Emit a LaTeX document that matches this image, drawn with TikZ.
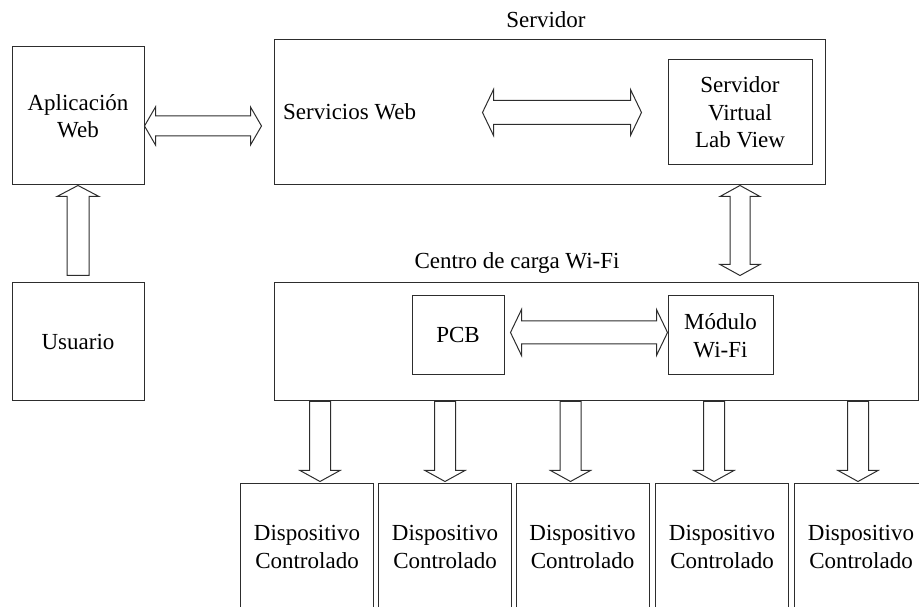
\documentclass[tikz,border=0pt]{standalone}
\usepackage{fontspec}
\setmainfont{Liberation Serif}
\usetikzlibrary{calc,positioning}
\definecolor{figline}{RGB}{45,45,45}
\tikzset{
  box/.style ={draw=figline, line width=1pt, inner sep=2pt, align=center, font=\fontsize{23}{27.5}\selectfont},
  lab/.style ={font=\fontsize{23}{27.5}\selectfont, inner sep=0pt},
  blk/.style ={draw=figline, line width=1pt, line join=miter},
}
% block arrow, tip at #2; #3 half shaft, #4 half head
\newcommand\fatarrow[4]{%
  \draw[blk] ($(#1)!#3!90:(#2)$) -- ($(#2)!11pt!(#1)!#3!-90:(#1)$) -- ($(#2)!11pt!(#1)!#4!-90:(#1)$)
    -- (#2) -- ($(#2)!11pt!(#1)!#4!90:(#1)$) -- ($(#2)!11pt!(#1)!#3!90:(#1)$) -- ($(#1)!#3!-90:(#2)$) -- cycle;}
% block arrow with a tip at both ends
\newcommand\fatdblarrow[4]{%
  \draw[blk] (#1) -- ($(#1)!11pt!(#2)!#4!90:(#2)$) -- ($(#1)!11pt!(#2)!#3!90:(#2)$)
    -- ($(#2)!11pt!(#1)!#3!-90:(#1)$) -- ($(#2)!11pt!(#1)!#4!-90:(#1)$) -- (#2)
    -- ($(#2)!11pt!(#1)!#4!90:(#1)$) -- ($(#2)!11pt!(#1)!#3!90:(#1)$)
    -- ($(#1)!11pt!(#2)!#3!-90:(#2)$) -- ($(#1)!11pt!(#2)!#4!-90:(#2)$) -- cycle;}
\begin{document}
\begin{tikzpicture}[x=1pt,y=1pt]
  \useasboundingbox (0,0) rectangle (919,607);
  \clip (0,0) rectangle (919,607);
  % left column
  \node[box,minimum width=132pt,minimum height=138pt] (app) at (78,491) {Aplicación\\Web};
  \node[box,minimum width=132pt,minimum height=118pt] (usr) at (78,265) {Usuario};
  % server
  \node[box,minimum width=551pt,minimum height=145pt] (srv) at (549.5,494.5) {};
  \node[lab] (srvlab) at (546,587) {Servidor};
  \node[lab,anchor=west] (ws) at (283,495) {Servicios Web};
  \node[box,minimum width=144pt,minimum height=105pt] (svlv) at (740,494.5) {Servidor\\Virtual\\Lab View};
  % load centre
  \node[lab] (cwflab) at (517,344) {Centro de carga Wi-Fi};
  \node[box,minimum width=644pt,minimum height=118pt] (cwf) at (596,265) {};
  \node[box,minimum width=92pt,minimum height=79pt] (pcb) at (458,271.5) {PCB};
  \node[box,minimum width=105pt,minimum height=79pt] (mod) at (720.5,271.5) {Módulo\\Wi-Fi};
  % devices
  \foreach \i/\cx in {1/307,2/445,3/582.5,4/722,5/861}
    \node[box,minimum width=133pt,minimum height=126pt] (dev\i) at (\cx,60) {Dispositivo\\Controlado};
  % arrows
  \coordinate (a1) at ($(app.east)+(0,-10)$);
  \coordinate (a2) at ($(srv.west |- a1)+(-12,0)$);
  \fatdblarrow{a1}{a2}{10pt}{19pt}
  \coordinate (b1) at ($(svlv.west)+(-185,0)$);
  \coordinate (b2) at ($(svlv.west)+(-26,0)$);
  \fatdblarrow{b1}{b2}{12pt}{23pt}
  \coordinate (c1) at (svlv.center |- srv.south);
  \coordinate (c2) at ($(c1 |- cwf.north)+(0,7)$);
  \fatdblarrow{c1}{c2}{10pt}{20pt}
  \coordinate (d1) at ($(pcb.east)+(6,3)$);
  \coordinate (d2) at (mod.west |- d1);
  \fatdblarrow{d1}{d2}{11.5pt}{23pt}
  \coordinate (e1) at ($(usr.north)+(0,7)$);
  \fatarrow{e1}{app.south}{11pt}{21pt}
  \foreach \i/\dx in {1/13,2/0,3/-12,4/-8,5/-3}{
    \coordinate (f\i) at ($(dev\i.north)+(\dx,2)$);
    \coordinate (g\i) at (f\i |- cwf.south);
    \fatarrow{g\i}{f\i}{10.5pt}{20pt}
  }
\end{tikzpicture}
\end{document}
